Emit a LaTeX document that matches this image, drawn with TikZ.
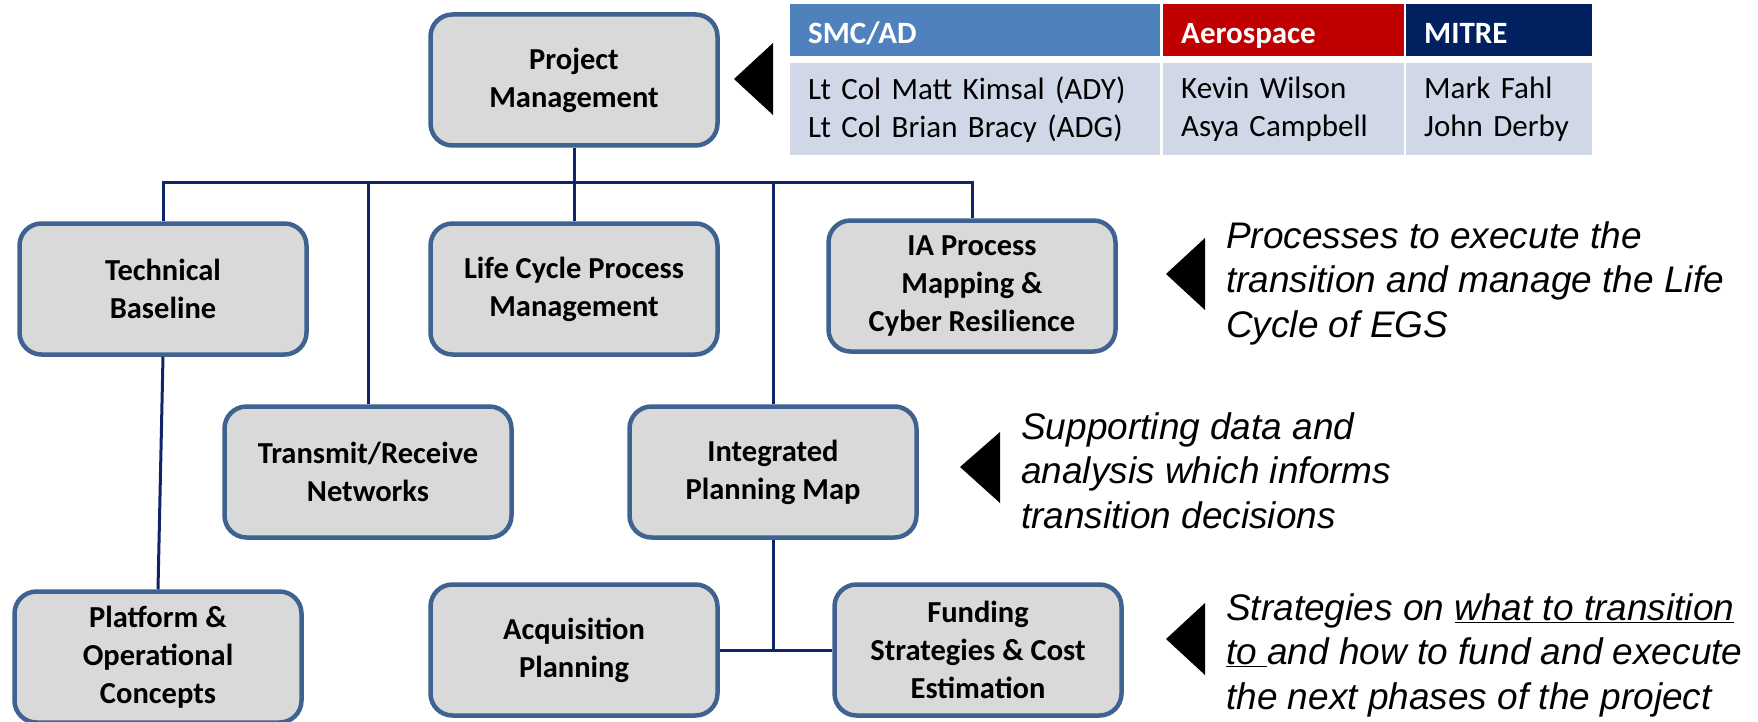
\documentclass[tikz,border=0pt]{standalone}
\usepackage{fontspec}
\setmainfont{Carlito}
\newfontfamily\notefont{Liberation Sans}
\usetikzlibrary{positioning}
\definecolor{boxgray}{HTML}{D9D9D9}
\definecolor{boxedge}{HTML}{3F6391}
\definecolor{busblue}{HTML}{0F2469}
\definecolor{smcblue}{HTML}{4F81BD}
\definecolor{aerored}{HTML}{C00000}
\definecolor{mitrenavy}{HTML}{002060}
\definecolor{cellgray}{HTML}{D0D8E8}

\begin{document}
\begin{tikzpicture}[x=1pt,y=-1pt,
  orgbox/.style={draw=boxedge, line width=4.5pt, fill=boxgray, rounded corners=22pt,
    minimum width=287pt, minimum height=131pt, inner sep=0pt, align=center,
    font=\fontsize{30.5}{38}\selectfont\bfseries},
  bus/.style={draw=busblue, line width=3pt},
  head/.style={anchor=north west, inner xsep=18pt, inner ysep=0pt, minimum height=52pt,
    text height=26pt, text depth=0pt,
    text=white, align=left, font=\fontsize{31}{38}\selectfont\bfseries},
  names/.style={anchor=north west, fill=cellgray, inner xsep=18pt, inner ysep=0pt,
    minimum height=92pt, align=left, font=\fontsize{31}{38}\selectfont},
  note/.style={anchor=north west, inner sep=0pt, align=left,
    font=\notefont\itshape\fontsize{37}{44.5}\selectfont}]

\useasboundingbox (0,0) rectangle (1758,722);

% boxes
\node[orgbox] (pm) at (574,80) {Project\\Management};
\node[orgbox] (tb) at (163,289) {Technical\\Baseline};
\node[orgbox] (lc) at (574,289) {Life Cycle Process\\Management};
\node[orgbox] (ia) at (972,286) {IA Process\\Mapping \&\\Cyber Resilience};
\node[orgbox] (tr) at (368,472) {Transmit/Receive\\Networks};
\node[orgbox] (ip) at (773,472) {Integrated\\Planning Map};
\node[orgbox] (pf) at (158,657) {Platform \&\\Operational\\Concepts};
\node[orgbox] (aq) at (574,650) {Acquisition\\Planning};
\node[orgbox] (fs) at (978,650) {Funding\\Strategies \& Cost\\Estimation};

% lines
\coordinate (bus) at (574,183);
\draw[bus] (pm.south) -- (bus);
\draw[bus] (tb.north) |- (bus) -| (ia.north);
\draw[bus] (tr.north) -- (tr.north |- bus);
\draw[bus] (lc.north) -- (bus);
\draw[bus] (ip.north) -- (ip.north |- bus);
\draw[bus] (tb.south) -- (pf.north);
\draw[bus] (ip.south) -- (ip.south |- aq.east);
\draw[bus] (aq.east) -- (fs.west);

% table
\node[head, fill=smcblue, text width=334pt] (smc) at (790,4) {SMC/AD};
\node[head, fill=aerored, text width=205pt] (aero) at (1163,4) {Aerospace};
\node[head, fill=mitrenavy, text width=150pt] (mitre) at (1406,4) {MITRE};
\node[names, text width=334pt] (smcnames) at (790,63) {Lt Col Matt Kimsal (ADY)\\Lt Col Brian Bracy (ADG)};
\node[names, text width=205pt] (aeronames) at (1163,63) {Kevin Wilson\\Asya Campbell};
\node[names, text width=150pt] (mitrenames) at (1406,63) {Mark Fahl\\John Derby};

% pointers
\fill (734,79) -- (773,43) -- (773,115) -- cycle;
\fill (1166,274) -- (1205,238) -- (1205,310) -- cycle;
\fill (960,467) -- (1000,432) -- (1000,503) -- cycle;
\fill (1166,639) -- (1205,603) -- (1205,675) -- cycle;

% notes
\node[note] (lifenote) at (1226,221) {Processes to execute the\\transition and manage the Life\\Cycle of EGS};
\node[note] (datanote) at (1021,412) {Supporting data and\\analysis which informs\\transition decisions};
\node[note] (fundnote) at (1226,593) {Strategies on \underline{what to transition}\\\underline{to\ }and how to fund and execute\\the next phases of the project};
\end{tikzpicture}
\end{document}
